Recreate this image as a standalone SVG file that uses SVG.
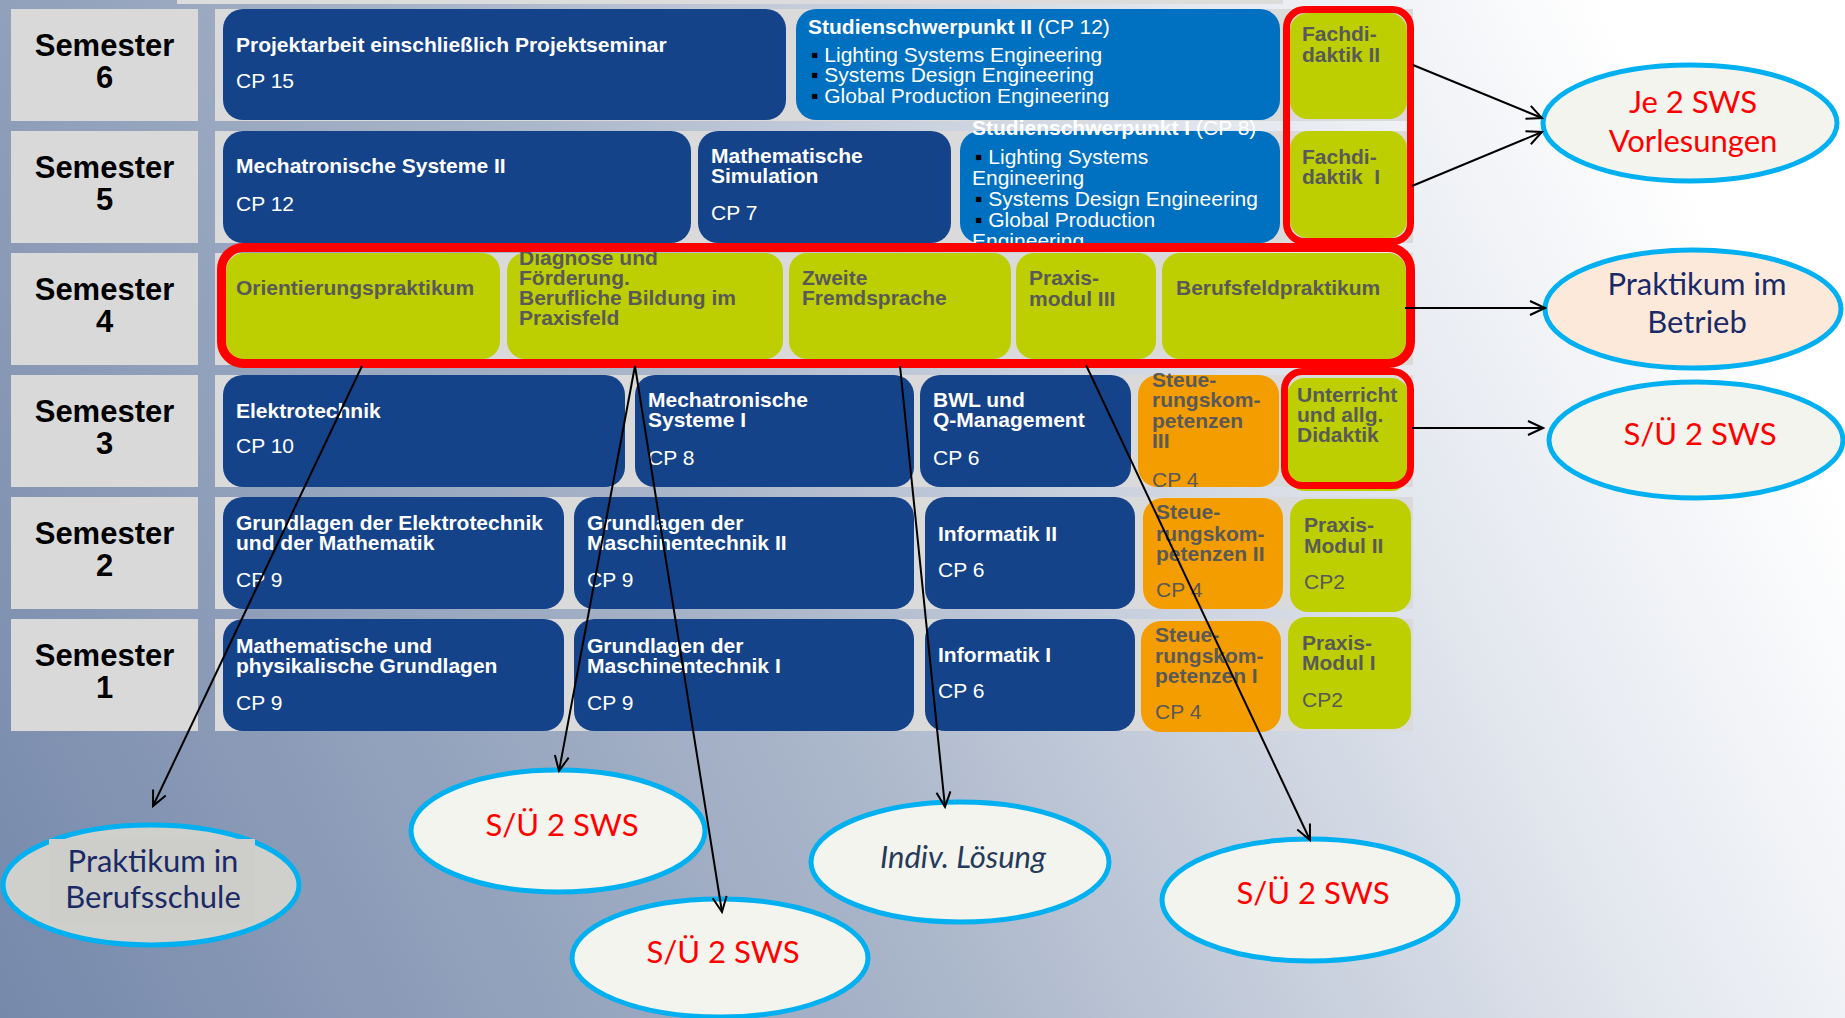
<svg xmlns="http://www.w3.org/2000/svg" width="1845" height="1018" viewBox="0 0 1845 1018">
<defs>
<linearGradient id="bg" gradientUnits="userSpaceOnUse" x1="0" y1="1018" x2="1700" y2="200">
<stop offset="0" stop-color="#7689ab"/>
<stop offset="0.45" stop-color="#a9b5c9"/>
<stop offset="0.8" stop-color="#e4e8ef"/>
<stop offset="1" stop-color="#ffffff"/>
</linearGradient>
<marker id="arr" viewBox="0 0 18 18" refX="16" refY="9" markerWidth="18" markerHeight="18" markerUnits="userSpaceOnUse" orient="auto">
<path d="M1,2 L16,9 L1,16" fill="none" stroke="#000" stroke-width="2"/>
</marker>
<clipPath id="ssp1clip"><rect x="950" y="115" width="340" height="128"/></clipPath>
<style>
.lbl{fill:#d9d9d9}
.band{fill:#dadada}
.db{fill:#154389}
.mb{fill:#0070c0}
.gr{fill:#bdcf00}
.or{fill:#f49d00}
.t{font-family:"Liberation Sans",Arial,sans-serif;font-size:21px}
.b{font-weight:bold}
.w{fill:#ffffff}
.g{fill:#595959}
.sem{font-family:"Liberation Sans",Arial,sans-serif;font-size:31px;font-weight:bold;text-anchor:middle;fill:#000}
.red{fill:none;stroke:#ff0000}
.con{stroke:#000;stroke-width:2;fill:none;marker-end:url(#arr)}
.ell{fill:#f4f4ee;stroke:#00b0f0;stroke-width:5}
.et{font-family:Lato,"Open Sans",sans-serif;font-size:31px;text-anchor:middle}
.rt{fill:#ff0000}
.nt{fill:#1b2a66}
</style>
</defs>
<rect x="0" y="0" width="1845" height="1018" fill="url(#bg)"/>
<rect x="177" y="0" width="1106" height="4" fill="#dcdcdc"/>

<g id="semester-labels">
<rect class="lbl" x="11" y="9" width="187" height="112"/>
<text class="sem" x="104.5" y="56">Semester</text><text class="sem" x="104.5" y="88">6</text>
<rect class="lbl" x="11" y="131" width="187" height="112"/>
<text class="sem" x="104.5" y="178">Semester</text><text class="sem" x="104.5" y="210">5</text>
<rect class="lbl" x="11" y="253" width="187" height="112"/>
<text class="sem" x="104.5" y="300">Semester</text><text class="sem" x="104.5" y="332">4</text>
<rect class="lbl" x="11" y="375" width="187" height="112"/>
<text class="sem" x="104.5" y="422">Semester</text><text class="sem" x="104.5" y="454">3</text>
<rect class="lbl" x="11" y="497" width="187" height="112"/>
<text class="sem" x="104.5" y="544">Semester</text><text class="sem" x="104.5" y="576">2</text>
<rect class="lbl" x="11" y="619" width="187" height="112"/>
<text class="sem" x="104.5" y="666">Semester</text><text class="sem" x="104.5" y="698">1</text>
</g>

<g id="row-bands">
<rect class="band" x="215" y="9" width="1198" height="112"/>
<rect class="band" x="215" y="131" width="1198" height="112"/>
<rect class="band" x="215" y="253" width="1198" height="112"/>
<rect class="band" x="215" y="375" width="1198" height="112"/>
<rect class="band" x="215" y="497" width="1198" height="112"/>
<rect class="band" x="215" y="619" width="1198" height="112"/>
</g>

<!-- Semester 6 -->
<g id="projektarbeit">
<rect class="db" x="223" y="9" width="563" height="111" rx="20"/>
<text class="t b w" x="236" y="52">Projektarbeit einschließlich Projektseminar</text>
<text class="t w" x="236" y="88">CP 15</text>
</g>
<g id="studienschwerpunkt-2">
<rect class="mb" x="796" y="9" width="484" height="111" rx="20"/>
<text class="t w" x="808" y="34"><tspan class="b">Studienschwerpunkt II</tspan> (CP 12)</text>
<text class="t w" x="811" y="62"><tspan fill="#000">▪</tspan> Lighting Systems Engineering</text>
<text class="t w" x="811" y="82"><tspan fill="#000">▪</tspan> Systems Design Engineering</text>
<text class="t w" x="811" y="103"><tspan fill="#000">▪</tspan> Global Production Engineering</text>
</g>
<g id="fachdidaktik-2">
<rect class="gr" x="1290" y="13" width="117" height="106" rx="18"/>
<text class="t b g" x="1302" y="41">Fachdi-</text>
<text class="t b g" x="1302" y="62">daktik II</text>
</g>

<!-- Semester 5 -->
<g id="mechatronische-systeme-2">
<rect class="db" x="223" y="131" width="468" height="112" rx="20"/>
<text class="t b w" x="236" y="173">Mechatronische Systeme II</text>
<text class="t w" x="236" y="211">CP 12</text>
</g>
<g id="mathematische-simulation">
<rect class="db" x="698" y="131" width="253" height="112" rx="20"/>
<text class="t b w" x="711" y="163">Mathematische</text>
<text class="t b w" x="711" y="183">Simulation</text>
<text class="t w" x="711" y="220">CP 7</text>
</g>
<g id="studienschwerpunkt-1">
<rect class="mb" x="960" y="131" width="320" height="112" rx="20"/>
<g clip-path="url(#ssp1clip)">
<text class="t w" x="972" y="135"><tspan class="b">Studienschwerpunkt I</tspan> (CP 8)</text>
<text class="t w" x="975" y="164"><tspan fill="#000">▪</tspan> Lighting Systems</text>
<text class="t w" x="972" y="185">Engineering</text>
<text class="t w" x="975" y="206"><tspan fill="#000">▪</tspan> Systems Design Engineering</text>
<text class="t w" x="975" y="227"><tspan fill="#000">▪</tspan> Global Production</text>
<text class="t w" x="972" y="248">Engineering</text>
</g>
</g>
<g id="fachdidaktik-1">
<rect class="gr" x="1290" y="131" width="117" height="107" rx="18"/>
<text class="t b g" x="1302" y="164">Fachdi-</text>
<text class="t b g" x="1302" y="184">daktik&#160; I</text>
</g>

<!-- Semester 4 -->
<g id="orientierungspraktikum">
<rect class="gr" x="226" y="253" width="274" height="106" rx="18"/>
<text class="t b g" x="236" y="295">Orientierungspraktikum</text>
</g>
<g id="diagnose-foerderung">
<rect class="gr" x="507" y="253" width="276" height="106" rx="18"/>
<text class="t b g" x="519" y="265">Diagnose und</text>
<text class="t b g" x="519" y="285">Förderung.</text>
<text class="t b g" x="519" y="305">Berufliche Bildung im</text>
<text class="t b g" x="519" y="325">Praxisfeld</text>
</g>
<g id="zweite-fremdsprache">
<rect class="gr" x="789" y="253" width="222" height="106" rx="18"/>
<text class="t b g" x="802" y="285">Zweite</text>
<text class="t b g" x="802" y="305">Fremdsprache</text>
</g>
<g id="praxismodul-3">
<rect class="gr" x="1016" y="253" width="140" height="106" rx="18"/>
<text class="t b g" x="1029" y="285">Praxis-</text>
<text class="t b g" x="1029" y="306">modul III</text>
</g>
<g id="berufsfeldpraktikum">
<rect class="gr" x="1162" y="253" width="244" height="106" rx="18"/>
<text class="t b g" x="1176" y="295">Berufsfeldpraktikum</text>
</g>

<!-- Semester 3 -->
<g id="elektrotechnik">
<rect class="db" x="223" y="375" width="402" height="112" rx="20"/>
<text class="t b w" x="236" y="418">Elektrotechnik</text>
<text class="t w" x="236" y="453">CP 10</text>
</g>
<g id="mechatronische-systeme-1">
<rect class="db" x="635" y="375" width="279" height="112" rx="20"/>
<text class="t b w" x="648" y="407">Mechatronische</text>
<text class="t b w" x="648" y="427">Systeme I</text>
<text class="t w" x="648" y="465">CP 8</text>
</g>
<g id="bwl-q-management">
<rect class="db" x="920" y="375" width="211" height="112" rx="20"/>
<text class="t b w" x="933" y="407">BWL und</text>
<text class="t b w" x="933" y="427">Q-Management</text>
<text class="t w" x="933" y="465">CP 6</text>
</g>
<g id="steuerungskompetenzen-3">
<rect class="or" x="1138" y="375" width="141" height="112" rx="20"/>
<text class="t b g" x="1152" y="387">Steue-</text>
<text class="t b g" x="1152" y="407">rungskom-</text>
<text class="t b g" x="1152" y="428">petenzen</text>
<text class="t b g" x="1152" y="448">III</text>
<text class="t g" x="1152" y="487">CP 4</text>
</g>
<g id="unterricht-didaktik">
<rect class="gr" x="1287" y="378" width="122" height="113" rx="18"/>
<text class="t b g" x="1297" y="402">Unterricht</text>
<text class="t b g" x="1297" y="422">und allg.</text>
<text class="t b g" x="1297" y="442">Didaktik</text>
</g>

<!-- Semester 2 -->
<g id="grundlagen-et-mathe">
<rect class="db" x="223" y="497" width="341" height="112" rx="20"/>
<text class="t b w" x="236" y="530">Grundlagen der Elektrotechnik</text>
<text class="t b w" x="236" y="550">und der Mathematik</text>
<text class="t w" x="236" y="587">CP 9</text>
</g>
<g id="grundlagen-maschinentechnik-2">
<rect class="db" x="574" y="497" width="340" height="112" rx="20"/>
<text class="t b w" x="587" y="530">Grundlagen der</text>
<text class="t b w" x="587" y="550">Maschinentechnik II</text>
<text class="t w" x="587" y="587">CP 9</text>
</g>
<g id="informatik-2">
<rect class="db" x="925" y="497" width="210" height="112" rx="20"/>
<text class="t b w" x="938" y="541">Informatik II</text>
<text class="t w" x="938" y="577">CP 6</text>
</g>
<g id="steuerungskompetenzen-2">
<rect class="or" x="1143" y="498" width="140" height="111" rx="20"/>
<text class="t b g" x="1156" y="519">Steue-</text>
<text class="t b g" x="1156" y="541">rungskom-</text>
<text class="t b g" x="1156" y="561">petenzen II</text>
<text class="t g" x="1156" y="597">CP 4</text>
</g>
<g id="praxismodul-2">
<rect class="gr" x="1290" y="499" width="121" height="113" rx="18"/>
<text class="t b g" x="1304" y="532">Praxis-</text>
<text class="t b g" x="1304" y="553">Modul II</text>
<text class="t g" x="1304" y="589">CP2</text>
</g>

<!-- Semester 1 -->
<g id="mathe-physik-grundlagen">
<rect class="db" x="223" y="619" width="341" height="112" rx="20"/>
<text class="t b w" x="236" y="653">Mathematische und</text>
<text class="t b w" x="236" y="673">physikalische Grundlagen</text>
<text class="t w" x="236" y="710">CP 9</text>
</g>
<g id="grundlagen-maschinentechnik-1">
<rect class="db" x="574" y="619" width="340" height="112" rx="20"/>
<text class="t b w" x="587" y="653">Grundlagen der</text>
<text class="t b w" x="587" y="673">Maschinentechnik I</text>
<text class="t w" x="587" y="710">CP 9</text>
</g>
<g id="informatik-1">
<rect class="db" x="925" y="619" width="210" height="112" rx="20"/>
<text class="t b w" x="938" y="662">Informatik I</text>
<text class="t w" x="938" y="698">CP 6</text>
</g>
<g id="steuerungskompetenzen-1">
<rect class="or" x="1141" y="621" width="140" height="111" rx="20"/>
<text class="t b g" x="1155" y="642">Steue-</text>
<text class="t b g" x="1155" y="663">rungskom-</text>
<text class="t b g" x="1155" y="683">petenzen I</text>
<text class="t g" x="1155" y="719">CP 4</text>
</g>
<g id="praxismodul-1">
<rect class="gr" x="1288" y="617" width="123" height="112" rx="18"/>
<text class="t b g" x="1302" y="650">Praxis-</text>
<text class="t b g" x="1302" y="670">Modul I</text>
<text class="t g" x="1302" y="707">CP2</text>
</g>

<g id="highlights">
<rect class="red" x="1286.5" y="9.5" width="124" height="232" rx="18" stroke-width="7"/>
<rect class="red" x="221.5" y="247.5" width="1189" height="116" rx="22" stroke-width="9"/>
<rect class="red" x="1284.5" y="371.5" width="126" height="114" rx="18" stroke-width="7"/>
</g>

<g id="ellipses">
<g id="e-vorlesungen">
<ellipse class="ell" cx="1690" cy="123" rx="147" ry="58"/>
<text class="et rt" x="1693" y="113">Je 2 SWS</text>
<text class="et rt" x="1693" y="152">Vorlesungen</text>
</g>
<g id="e-praktikum-betrieb">
<ellipse class="ell" cx="1693" cy="309" rx="148" ry="59" style="fill:#fce9da"/>
<text class="et nt" x="1697" y="295">Praktikum im</text>
<text class="et nt" x="1697" y="333">Betrieb</text>
</g>
<g id="e-su-right">
<ellipse class="ell" cx="1696" cy="440" rx="147" ry="58"/>
<text class="et rt" x="1700" y="445">S/Ü 2 SWS</text>
</g>
<g id="e-praktikum-berufsschule">
<ellipse class="ell" cx="151" cy="885" rx="148" ry="60" style="fill:#cfd0cb"/>
<rect x="49" y="839" width="206" height="84" fill="#cdcec9"/>
<text class="et nt" x="153" y="872">Praktikum in</text>
<text class="et nt" x="153" y="908">Berufsschule</text>
</g>
<g id="e-su-1">
<ellipse class="ell" cx="558" cy="831" rx="147" ry="61"/>
<text class="et rt" x="562" y="836">S/Ü 2 SWS</text>
</g>
<g id="e-su-2">
<ellipse class="ell" cx="720" cy="958" rx="148" ry="59"/>
<text class="et rt" x="723" y="963">S/Ü 2 SWS</text>
</g>
<g id="e-indiv">
<ellipse class="ell" cx="960" cy="862" rx="149" ry="60"/>
<text class="et" x="963" y="868" fill="#263a5a" font-style="italic">Indiv. Lösung</text>
</g>
<g id="e-su-3">
<ellipse class="ell" cx="1310" cy="900" rx="148" ry="61"/>
<text class="et rt" x="1313" y="904">S/Ü 2 SWS</text>
</g>
</g>

<g id="connectors">
<line class="con" x1="362" y1="366" x2="153" y2="806"/>
<line class="con" x1="635" y1="366" x2="559" y2="771"/>
<line class="con" x1="635" y1="366" x2="722" y2="912"/>
<line class="con" x1="900" y1="366" x2="945" y2="807"/>
<line class="con" x1="1086" y1="365" x2="1310" y2="840"/>
<line class="con" x1="1413" y1="65" x2="1542" y2="118"/>
<line class="con" x1="1412" y1="186" x2="1542" y2="132"/>
<line class="con" x1="1405" y1="308" x2="1545" y2="308"/>
<line class="con" x1="1412" y1="428" x2="1543" y2="428"/>
</g>
</svg>
